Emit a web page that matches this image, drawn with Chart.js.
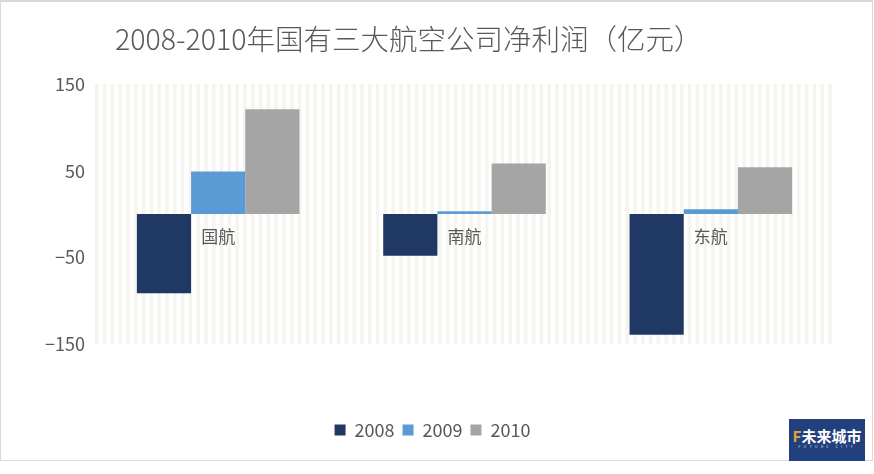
<!DOCTYPE html>
<html><head><meta charset="utf-8">
<script src="https://cdn.jsdelivr.net/npm/chart.js@4/dist/chart.umd.min.js"></script>
<style>
html,body{margin:0;padding:0;background:#fff;}
#wrap{position:absolute;left:0;top:0;width:871px;height:458px;border:1px solid #d9d9d9;border-top-width:2px;background:#fff;}
#c{position:absolute;left:0;top:0;}
#logo{position:absolute;left:789px;top:419px;width:76px;height:42px;background:#22407e;color:#fff;font-family:"Noto Sans CJK SC";text-align:center;}
#logo .a{font-size:15px;line-height:15px;padding-top:9px;letter-spacing:0px;font-weight:bold}
#logo .b{font-size:4px;line-height:6px;letter-spacing:3px;color:#ccd}
</style></head>
<body>
<div id="wrap"><canvas id="c" width="871" height="458"></canvas></div>
<div id="logo"><div class="a"><span style="color:#e0a040">F</span>未来城市</div><div class="b">FUTURE CITY</div></div>
<script>
const titleText = "2008-2010年国有三大航空公司净利润（亿元）";
const categories = ["国航", "南航", "东航"];
const seriesNames = ["2008", "2009", "2010"];
const values2008 = [-91.5, -48.2, -139.3];
const values2009 = [49.0, 3.3, 5.4];
const values2010 = [120.8, 58.4, 53.8];
const colors = ["#203864", "#5b9bd5", "#a5a5a5"];
const FONT = '"Noto Sans CJK SC", "Noto Sans", sans-serif';

const stripes = {
  id: 'stripes',
  beforeDatasetsDraw(chart) {
    const {ctx, chartArea: a} = chart;
    ctx.save();
    ctx.fillStyle = '#f5f4ef';
    for (let x = a.left; x < a.right; x += 7.8) {
      ctx.fillRect(x, a.top, 3.6, a.bottom - a.top);
    }
    ctx.restore();
  }
};
const titleAndLabels = {
  id: 'tl',
  afterDatasetsDraw(chart) {
    const {ctx} = chart;
    ctx.save();
    ctx.fillStyle = '#595959';
    ctx.font = '300 28.5px ' + FONT;
    ctx.textBaseline = 'middle';
    ctx.textAlign = 'left';
    ctx.fillText(titleText, 114, 37);
    const xs = chart.scales.x, ys = chart.scales.y;
    ctx.font = '17px ' + FONT;
    ctx.textAlign = 'center';
    categories.forEach((c, i) => {
      ctx.fillText(c, xs.getPixelForValue(i), ys.getPixelForValue(0) + 23);
    });
    ctx.restore();
  }
};

new Chart(document.getElementById('c'), {
  type: 'bar',
  data: {
    labels: categories,
    datasets: [
      {label: seriesNames[0], data: values2008, backgroundColor: colors[0]},
      {label: seriesNames[1], data: values2009, backgroundColor: colors[1]},
      {label: seriesNames[2], data: values2010, backgroundColor: colors[2]}
    ]
  },
  options: {
    responsive: false,
    animation: false,
    devicePixelRatio: 1,
    layout: {padding: {top: 82, right: 38, left: 30, bottom: 11}},
    datasets: {bar: {categoryPercentage: 0.66, barPercentage: 1.0}},
    plugins: {
      title: {display: false},
      tooltip: {enabled: false},
      legend: {
        position: 'bottom',
        labels: {
          color: '#595959', font: {size: 18, family: FONT},
          boxWidth: 11, boxHeight: 11, padding: 8
        }
      }
    },
    scales: {
      x: {
        display: true,
        grid: {display: false, drawTicks: false},
        border: {display: false},
        ticks: {display: false},
        afterFit(s) { s.height = 69; }
      },
      y: {
        min: -150, max: 150,
        grid: {display: false, drawTicks: false},
        border: {display: false},
        ticks: {
          stepSize: 100, color: '#595959', font: {size: 18, family: FONT}, padding: 10,
          callback: v => String(v).replace('-', '\u2212')
        },
        afterFit(s) { s.width = 64; }
      }
    }
  },
  plugins: [stripes, titleAndLabels]
});
</script>
</body></html>
